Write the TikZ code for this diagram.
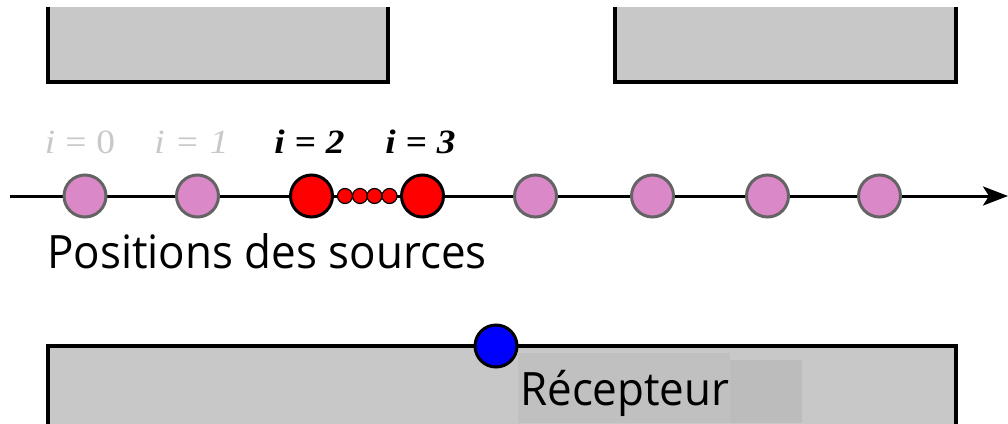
\documentclass[tikz,border=0pt]{standalone}
\usepackage{fontspec}
\setmainfont{Liberation Serif}
\newfontfamily\sansfam[FakeStretch=0.955]{Open Sans}
\newfontfamily\idxfam[FakeStretch=1.1]{Liberation Serif}
\usepackage{tikz}
\usetikzlibrary{arrows.meta,calc,positioning}
\definecolor{wallgray}{RGB}{200,200,200}
\definecolor{tagbg}{RGB}{192,192,192}
\definecolor{tagbgb}{RGB}{188,188,188}
\definecolor{srcpink}{RGB}{218,136,200}
\definecolor{srcedge}{RGB}{100,100,100}
\definecolor{faded}{RGB}{200,200,200}
\newcommand{\eqgap}{\hspace{10pt}=\hspace{10pt}}

\begin{document}
\begin{tikzpicture}[x=1pt,y=-1pt,
  src/.style={circle,draw=srcedge,fill=srcpink,line width=3pt,minimum size=42pt,inner sep=0pt},
  act/.style={circle,draw=black,fill=red,line width=3pt,minimum size=42pt,inner sep=0pt},
  link/.style={circle,draw=black,fill=red,line width=1.2pt,minimum size=15pt,inner sep=0pt},
  recv/.style={circle,draw=black,fill=blue,line width=3pt,minimum size=42pt,inner sep=0pt},
  ilabel/.style={anchor=base,inner sep=0pt,font=\idxfam\fontsize{34}{40}\selectfont},
  word/.style={anchor=base west,inner sep=0pt,font=\sansfam\fontsize{46}{54}\selectfont}]
\useasboundingbox (0,0) rectangle (1008,423);
\fill[wallgray] (48,7) rectangle (388,82);
\draw[line width=3.5pt] (48,7) -- (48,82) -- (388,82) -- (388,7);
\fill[wallgray] (615,7) rectangle (956,82);
\draw[line width=3.5pt] (615,7) -- (615,82) -- (956,82) -- (956,7);
\fill[wallgray] (48,346) rectangle (956,430);
\draw[line width=3.5pt] (48,430) -- (48,346) -- (956,346) -- (956,430);
\coordinate (O) at (10,196);
\coordinate (X) at (1008,196);
\draw[line width=3pt,-{Stealth[length=25pt,width=19pt,inset=6pt]}] (O) -- (X);
\foreach \n/\x in {0/85,1/197.5,4/535.5,5/652.5,6/767.5,7/879.5}
  \node[src] (S\n) at (\x,196) {};
\foreach \k/\x in {1/345,2/360,3/374.5,4/389.5}
  \node[link] (D\k) at (\x,196) {};
\node[act] (S2) at (311.5,196) {};
\node[act] (S3) at (422.5,196) {};
\node[ilabel,text=faded] (L0) at ($(S0)+(-5,-43)$) {\textit{i}\eqgap0};
\node[ilabel,text=faded] (L1) at ($(S1)+(-6,-43)$) {\textit{i\eqgap1}};
\node[ilabel] (L2) at ($(S2)+(-2,-43)$) {\textbf{\textit{i\eqgap2}}};
\node[ilabel] (L3) at ($(S3)+(-2,-43)$) {\textbf{\textit{i\eqgap3}}};
\node[word] (P) at (47,268) {Positions des sources};
\fill[tagbg] (518,353) rectangle (730,423);
\fill[tagbgb] (730,360) rectangle (802,423);
\node[recv] (R) at (496,346) {};
\node[word] (T) at (520,405) {Récepteur};
\end{tikzpicture}
\end{document}
